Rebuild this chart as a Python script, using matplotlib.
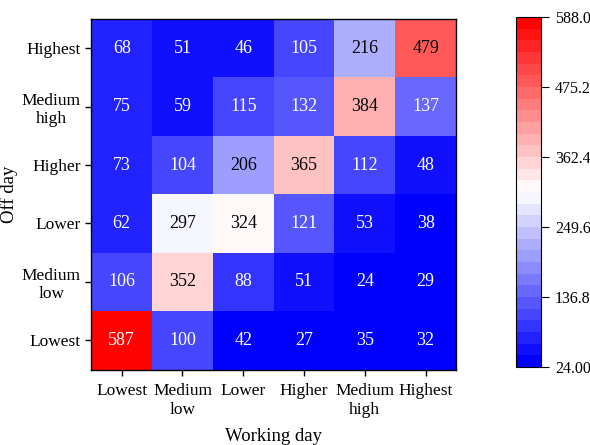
import numpy as np
import matplotlib
matplotlib.use('Agg')
import matplotlib.pyplot as plt
from matplotlib.colors import BoundaryNorm

plt.rcParams['font.family'] = ['Liberation Serif', 'DejaVu Serif']

# 类别（行从上到下：Off day；列从左到右：Working day）
work_levels = ['Lowest', 'Medium\nlow', 'Lower', 'Higher', 'Medium\nhigh', 'Highest']
off_levels = ['Highest', 'Medium\nhigh', 'Higher', 'Lower', 'Medium\nlow', 'Lowest']

row_highest = [68, 51, 46, 105, 216, 479]
row_medium_high = [75, 59, 115, 132, 384, 137]
row_higher = [73, 104, 206, 365, 112, 48]
row_lower = [62, 297, 324, 121, 53, 38]
row_medium_low = [106, 352, 88, 51, 24, 29]
row_lowest = [587, 100, 42, 27, 35, 32]

vmin, vmax = 24.0, 588.0
n_bands = 30

counts = np.array([row_highest, row_medium_high, row_higher,
                   row_lower, row_medium_low, row_lowest])

fig = plt.figure(figsize=(5.9, 4.45), dpi=100)
W, H = 590, 445
ax = fig.add_axes([91.3 / W, (H - 369.5) / H, 364.7 / W, 350.5 / H])
cax = fig.add_axes([516 / W, (H - 367) / H, 25 / W, 350 / H])

levels = np.linspace(vmin, vmax, n_bands + 1)
norm = BoundaryNorm(levels, ncolors=256)
cmap = plt.get_cmap('bwr')

mesh = ax.pcolormesh(np.arange(7), np.arange(7), counts, cmap=cmap, norm=norm)
ax.set_xlim(0, 6)
ax.set_ylim(6, 0)

# 数值标注：浅色格子用黑字
for i in range(6):
    for j in range(6):
        v = counts[i, j]
        color = 'black' if 150 < v < 520 else 'white'
        ax.text(j + 0.5, i + 0.5, str(v), ha='center', va='center',
                fontsize=13, color=color)

ax.set_xticks(np.arange(6) + 0.5)
ax.set_xticklabels(work_levels, fontsize=12.5)
ax.set_yticks(np.arange(6) + 0.5)
ax.set_yticklabels(off_levels, fontsize=12.5, multialignment='center')
ax.tick_params(direction='out', length=4, width=1)
ax.tick_params(axis='x', pad=6)
ax.set_xlabel('Working day', fontsize=13.5, labelpad=7)
ax.set_ylabel('Off day', fontsize=13.5, labelpad=3)
for s in ax.spines.values():
    s.set_linewidth(1.0)

cb = fig.colorbar(mesh, cax=cax)
ticks = np.linspace(vmin, vmax, 6)
cb.set_ticks(ticks)
cb.set_ticklabels(['{:#.4g}'.format(t) for t in ticks])
cb.minorticks_off()
cb.ax.tick_params(labelsize=11.5, length=6, width=0.8, pad=4)
cb.outline.set_linewidth(0.8)

fig.savefig('out.png', dpi=100)
